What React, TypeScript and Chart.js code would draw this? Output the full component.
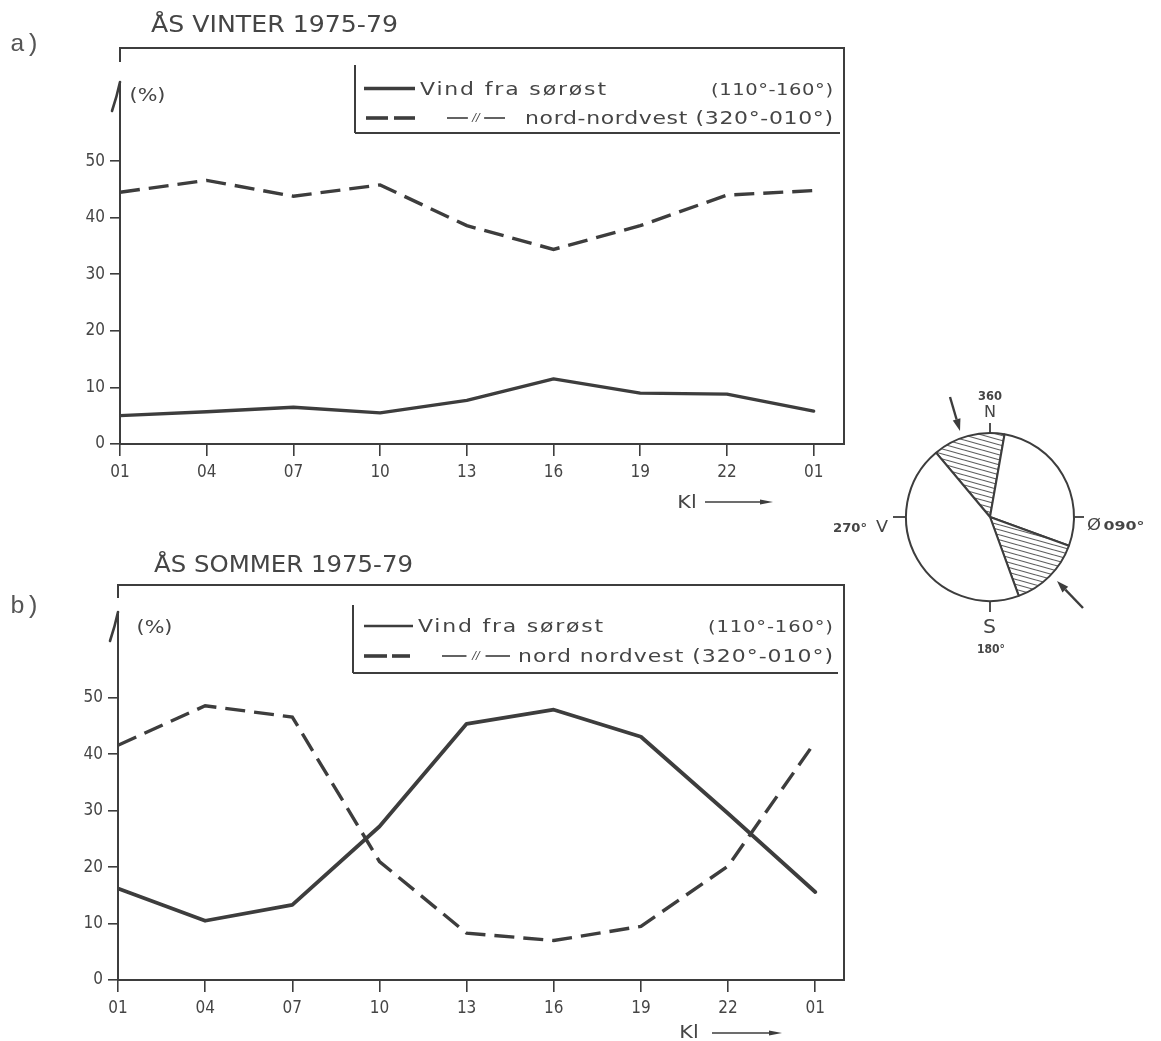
import React, { useEffect, useRef } from "react";
import { Chart, registerables } from "chart.js";

Chart.register(...registerables);

// ---------------- data ----------------
const hours = ["01", "04", "07", "10", "13", "16", "19", "22", "01"];
const yTickValues = [0, 10, 20, 30, 40, 50];

const winterSE = [5.0, 5.7, 6.5, 5.5, 7.7, 11.5, 9.0, 8.8, 5.8];
const winterNNW = [44.5, 46.6, 43.8, 45.8, 38.6, 34.4, 38.6, 44.0, 44.8];
const summerSE = [16.2, 10.5, 13.3, 27.2, 45.4, 47.9, 43.1, 29.5, 15.6];
const summerNNW = [41.6, 48.6, 46.6, 21.0, 8.3, 7.0, 9.5, 20.2, 42.2];

const seLabel = "Vind fra sørøst";
const seRange = "(110°-160°)";
const nnwRange = "(320°-010°)";
const winterNNWLabel = "nord-nordvest";
const summerNNWLabel = "nord nordvest";
const winterTitle = "ÅS VINTER 1975-79";
const summerTitle = "ÅS SOMMER 1975-79";

const compassStartDeg = 320;
const compassSectors = [50, 100, 50, 160];
const compassSectorLabels = ["320°-010°", "010°-110°", "110°-160°", "160°-320°"];
const compassHatched = [true, false, true, false];

// ---------------- style ----------------
const INK = "#3d3d3d";
const TEXT = "#454545";
const SANS = '"DejaVu Sans", "Noto Sans", sans-serif';
const NARROW = '"Liberation Sans Narrow", "DejaVu Sans Condensed", "DejaVu Sans", sans-serif';

function fitText(
  ctx: CanvasRenderingContext2D,
  text: string,
  x1: number,
  x2: number,
  baseline: number,
  font: string,
  color: string = TEXT,
  allowSpacing: boolean = true
) {
  ctx.save();
  ctx.font = font;
  ctx.fillStyle = color;
  ctx.textAlign = "left";
  ctx.textBaseline = "alphabetic";
  const a = ctx as any;
  const hasLS = "letterSpacing" in a;
  if (hasLS) a.letterSpacing = "0px";
  const w = ctx.measureText(text).width;
  const target = x2 - x1;
  const n = Array.from(text).length;
  const s = Math.max(0.6, Math.min(1.22, target / w));
  const scaledW = w * s;
  let start = x1;
  if (scaledW < target) {
    if (allowSpacing && hasLS && n > 4) {
      a.letterSpacing = ((target - scaledW) / (n - 1) / s).toFixed(2) + "px";
    } else {
      start = x1 + (target - scaledW) / 2;
    }
  }
  ctx.translate(start, baseline);
  ctx.scale(s, 1);
  ctx.fillText(text, 0, 0);
  ctx.restore();
}

function line(ctx: CanvasRenderingContext2D, x1: number, y1: number, x2: number, y2: number, w: number) {
  ctx.lineWidth = w;
  ctx.beginPath();
  ctx.moveTo(x1, y1);
  ctx.lineTo(x2, y2);
  ctx.stroke();
}

function arrow(ctx: CanvasRenderingContext2D, x1: number, y1: number, x2: number, y2: number, w: number, head: number, half: number) {
  const ang = Math.atan2(y2 - y1, x2 - x1);
  const bx = x2 - Math.cos(ang) * head;
  const by = y2 - Math.sin(ang) * head;
  line(ctx, x1, y1, bx, by, w);
  ctx.beginPath();
  ctx.moveTo(x2, y2);
  ctx.lineTo(bx + Math.sin(ang) * half, by - Math.cos(ang) * half);
  ctx.lineTo(bx - Math.sin(ang) * half, by + Math.cos(ang) * half);
  ctx.closePath();
  ctx.fill();
}

type LegendCfg = {
  lineX: number; lineTop: number; lineBottom: number; bottomRight: number;
  row1: number; row2: number; base1: number; base2: number;
  solid: [number, number]; dash1: [number, number]; dash2: [number, number];
  seText: [number, number]; seRangeX: [number, number];
  ditto: [number, number]; nnwText: [number, number];
  solidW: number;
};

type PanelCfg = {
  canvasTop: number; W: number; H: number;
  left: number; right: number; areaTop: number; areaBottom: number; xMax: number;
  se: number[]; nnw: number[]; seWidth: number;
  title: string; titleX: [number, number]; titleBase: number;
  panel: string; panelBase: number;
  gapTop: number; arrowTip: number;
  pct: [number, number]; pctBase: number;
  nnwLabel: string;
  legend: LegendCfg;
  kl: [number, number]; klBase: number; klArrow: [number, number]; klArrowY: number;
};

const winterCfg: PanelCfg = {
  canvasTop: 0, W: 880, H: 530,
  left: 120, right: 844, areaTop: 48, areaBottom: 444, xMax: 8.35,
  se: winterSE, nnw: winterNNW, seWidth: 3.3,
  title: winterTitle, titleX: [151, 398], titleBase: 32,
  panel: "a)", panelBase: 51,
  gapTop: 62, arrowTip: 82,
  pct: [128, 167], pctBase: 101,
  nnwLabel: winterNNWLabel,
  legend: {
    lineX: 355, lineTop: 65, lineBottom: 133, bottomRight: 840,
    row1: 88.5, row2: 118, base1: 95, base2: 124,
    solid: [364, 415], dash1: [366, 388], dash2: [394, 415],
    seText: [420, 606], seRangeX: [711, 833],
    ditto: [447, 505], nnwText: [525, 833], solidW: 3.6,
  },
  kl: [677, 697], klBase: 508, klArrow: [705, 773], klArrowY: 502,
};

const summerCfg: PanelCfg = {
  canvasTop: 537, W: 880, H: 504,
  left: 118, right: 844, areaTop: 48, areaBottom: 443, xMax: 8.33,
  se: summerSE, nnw: summerNNW, seWidth: 3.8,
  title: summerTitle, titleX: [154, 413], titleBase: 35,
  panel: "b)", panelBase: 76,
  gapTop: 61, arrowTip: 75,
  pct: [132, 177], pctBase: 96,
  nnwLabel: summerNNWLabel,
  legend: {
    lineX: 353, lineTop: 68, lineBottom: 136, bottomRight: 838,
    row1: 89, row2: 119, base1: 95, base2: 125,
    solid: [364, 413], dash1: [364, 387], dash2: [392, 410],
    seText: [418, 603], seRangeX: [708, 833],
    ditto: [442, 510], nnwText: [518, 833], solidW: 2.6,
  },
  kl: [678, 700], klBase: 501, klArrow: [712, 782], klArrowY: 496,
};

function panelDecor(cfg: PanelCfg) {
  return {
    id: "panelDecor",
    afterDraw(chart: any) {
      const ctx: CanvasRenderingContext2D = chart.ctx;
      const { left, right, top, bottom } = chart.chartArea;
      ctx.save();
      ctx.strokeStyle = INK;
      ctx.fillStyle = INK;
      ctx.lineCap = "butt";
      // frame
      ctx.lineWidth = 2;
      ctx.beginPath();
      ctx.moveTo(left, cfg.gapTop);
      ctx.lineTo(left, top);
      ctx.lineTo(right, top);
      ctx.lineTo(right, bottom);
      ctx.lineTo(left, bottom);
      ctx.lineTo(left, cfg.arrowTip);
      ctx.stroke();
      // axis arrow barb
      ctx.lineWidth = 2.6;
      ctx.lineCap = "round";
      ctx.beginPath();
      ctx.moveTo(left, cfg.arrowTip);
      ctx.quadraticCurveTo(left - 3, cfg.arrowTip + 14, left - 8, cfg.arrowTip + 29);
      ctx.stroke();
      ctx.lineCap = "butt";

      // title and panel label
      fitText(ctx, cfg.title, cfg.titleX[0], cfg.titleX[1], cfg.titleBase, `23px ${SANS}`);
      fitText(ctx, cfg.panel, 10, 40, cfg.panelBase, `24px "Liberation Mono", "DejaVu Sans Mono", monospace`, "#555", false);
      fitText(ctx, "(%)", cfg.pct[0], cfg.pct[1], cfg.pctBase, `17px ${SANS}`, TEXT, false);

      // legend
      const L = cfg.legend;
      ctx.strokeStyle = INK;
      line(ctx, L.lineX, L.lineTop, L.lineX, L.lineBottom, 2);
      line(ctx, L.lineX, L.lineBottom, L.bottomRight, L.lineBottom, 1.8);
      line(ctx, L.solid[0], L.row1, L.solid[1], L.row1, L.solidW);
      line(ctx, L.dash1[0], L.row2, L.dash1[1], L.row2, 3.6);
      line(ctx, L.dash2[0], L.row2, L.dash2[1], L.row2, 3.6);
      fitText(ctx, seLabel, L.seText[0], L.seText[1], L.base1, `18px ${SANS}`);
      fitText(ctx, seRange, L.seRangeX[0], L.seRangeX[1], L.base1, `16px ${SANS}`);
      // ditto mark
      const dw = (L.ditto[1] - L.ditto[0]) * 0.36;
      line(ctx, L.ditto[0], L.row2, L.ditto[0] + dw, L.row2, 1.6);
      line(ctx, L.ditto[1] - dw, L.row2, L.ditto[1], L.row2, 1.6);
      const mid = (L.ditto[0] + L.ditto[1]) / 2;
      ctx.font = `italic 11px ${SANS}`;
      ctx.fillStyle = TEXT;
      ctx.textAlign = "center";
      ctx.textBaseline = "middle";
      ctx.fillText("//", mid, L.row2);
      fitText(ctx, `${cfg.nnwLabel} ${nnwRange}`, L.nnwText[0], L.nnwText[1], L.base2, `18px ${SANS}`);

      // Kl arrow
      fitText(ctx, "Kl", cfg.kl[0], cfg.kl[1], cfg.klBase, `17px ${SANS}`, TEXT, false);
      ctx.fillStyle = INK;
      ctx.strokeStyle = INK;
      arrow(ctx, cfg.klArrow[0], cfg.klArrowY, cfg.klArrow[1], cfg.klArrowY, 1.5, 13, 2.5);
      ctx.restore();
    },
  };
}

function LinePanel({ cfg }: { cfg: PanelCfg }) {
  const ref = useRef<HTMLCanvasElement>(null);
  useEffect(() => {
    const canvas = ref.current!;
    const tickFont = { family: NARROW, size: 17 };
    const chart = new Chart(canvas, {
      type: "line",
      data: {
        datasets: [
          {
            label: seLabel,
            data: cfg.se.map((v, i) => ({ x: i, y: v })),
            borderColor: INK,
            borderWidth: cfg.seWidth,
            pointRadius: 0,
            tension: 0,
            fill: false,
            borderJoinStyle: "round",
            borderCapStyle: "round",
          },
          {
            label: cfg.nnwLabel,
            data: cfg.nnw.map((v, i) => ({ x: i, y: v })),
            borderColor: INK,
            borderWidth: 3.4,
            borderDash: [20, 9],
            pointRadius: 0,
            tension: 0,
            fill: false,
          },
        ],
      },
      options: {
        responsive: false,
        animation: false,
        events: [],
        layout: { padding: { top: cfg.areaTop, right: cfg.W - cfg.right, left: 0, bottom: 0 } },
        plugins: {
          legend: { display: false },
          tooltip: { enabled: false },
          title: { display: false },
        },
        scales: {
          x: {
            type: "linear",
            min: 0,
            max: cfg.xMax,
            afterBuildTicks: (s: any) => {
              s.ticks = hours.map((_, i) => ({ value: i }));
            },
            afterFit: (s: any) => {
              s.height = cfg.H - cfg.areaBottom;
            },
            ticks: {
              autoSkip: false,
              maxRotation: 0,
              padding: 6,
              color: TEXT,
              font: tickFont,
              callback: (_v: any, i: number) => hours[i],
            },
            grid: { drawOnChartArea: false, drawTicks: true, tickLength: 12, color: INK, lineWidth: 1.6 },
            border: { display: false },
          },
          y: {
            type: "linear",
            min: 0,
            max: 70,
            afterBuildTicks: (s: any) => {
              s.ticks = yTickValues.map((v) => ({ value: v }));
            },
            afterFit: (s: any) => {
              s.width = cfg.left;
            },
            ticks: { padding: 5, color: TEXT, font: tickFont, callback: (v: any) => String(v) },
            grid: { drawOnChartArea: false, drawTicks: true, tickLength: 10, color: INK, lineWidth: 1.6 },
            border: { display: false },
          },
        },
      } as any,
      plugins: [panelDecor(cfg)],
    });
    return () => chart.destroy();
  }, []);
  return (
    <canvas
      ref={ref}
      width={cfg.W}
      height={cfg.H}
      style={{ position: "absolute", left: 0, top: cfg.canvasTop, width: cfg.W, height: cfg.H }}
    />
  );
}

const compassDecor = {
  id: "compassDecor",
  afterDraw(chart: any) {
    const ctx: CanvasRenderingContext2D = chart.ctx;
    const arc: any = chart.getDatasetMeta(0).data[0];
    const cx = arc.x;
    const cy = arc.y;
    const r = arc.outerRadius;
    ctx.save();
    ctx.strokeStyle = INK;
    ctx.fillStyle = INK;
    // cardinal ticks
    line(ctx, cx, cy - r - 10, cx, cy - r, 1.8);
    line(ctx, cx, cy + r, cx, cy + r + 11, 1.8);
    line(ctx, cx + r, cy, cx + r + 10, cy, 1.8);
    line(ctx, cx - r - 13, cy, cx - r, cy, 1.8);
    // labels
    fitText(ctx, "360", cx - 12, cx + 12, cy - r - 33, `bold 12px ${SANS}`, TEXT, false);
    fitText(ctx, "N", cx - 6, cx + 6, cy - r - 16, `16px ${SANS}`, TEXT, false);
    fitText(ctx, "Ø", 267, 281, cy + 13, `16px ${SANS}`, TEXT, false);
    fitText(ctx, "090°", 283, 325, cy + 13, `bold 13px ${SANS}`, TEXT, false);
    fitText(ctx, "270°", 13, 47, cy + 15, `bold 13px ${SANS}`, TEXT, false);
    fitText(ctx, "V", 56, 68, cy + 15, `15px ${SANS}`, TEXT, false);
    fitText(ctx, "S", cx - 7, cx + 6, cy + r + 32, `19px ${SANS}`, TEXT, false);
    fitText(ctx, "180°", cx - 13, cx + 15, cy + r + 52, `bold 12px ${SANS}`, TEXT, false);
    // wind arrows
    ctx.fillStyle = INK;
    arrow(ctx, 130, 27, 140, 61, 2.4, 12, 4);
    arrow(ctx, 263, 238, 237, 211, 2.4, 12, 4);
    ctx.restore();
  },
};

function Compass() {
  const ref = useRef<HTMLCanvasElement>(null);
  useEffect(() => {
    const canvas = ref.current!;
    const tile = document.createElement("canvas");
    tile.width = 18;
    tile.height = 5;
    const g = tile.getContext("2d")!;
    g.fillStyle = "#ffffff";
    g.fillRect(0, 0, 18, 5);
    g.strokeStyle = "#5e5e5e";
    g.lineWidth = 1.1;
    for (const dy of [-5, 0, 5]) {
      g.beginPath();
      g.moveTo(0, dy);
      g.lineTo(18, dy + 5);
      g.stroke();
    }
    const pattern = canvas.getContext("2d")!.createPattern(tile, "repeat");
    const chart = new Chart(canvas, {
      type: "pie",
      data: {
        labels: compassSectorLabels,
        datasets: [
          {
            data: compassSectors,
            backgroundColor: compassHatched.map((h) => (h ? pattern : "#ffffff")),
            borderColor: INK,
            borderWidth: 2,
            borderAlign: "center",
          },
        ],
      },
      options: {
        responsive: false,
        animation: false,
        events: [],
        rotation: compassStartDeg,
        layout: { padding: { left: 85, right: 86, top: 62, bottom: 68 } },
        plugins: { legend: { display: false }, tooltip: { enabled: false } },
      } as any,
      plugins: [compassDecor],
    });
    return () => chart.destroy();
  }, []);
  return (
    <canvas
      ref={ref}
      width={341}
      height={300}
      style={{ position: "absolute", left: 820, top: 370, width: 341, height: 300 }}
    />
  );
}

export default function App() {
  return (
    <div
      style={{
        position: "absolute",
        left: 0,
        top: 0,
        width: 1161,
        height: 1041,
        background: "#ffffff",
        overflow: "hidden",
      }}
    >
      <LinePanel cfg={winterCfg} />
      <LinePanel cfg={summerCfg} />
      <Compass />
    </div>
  );
}
